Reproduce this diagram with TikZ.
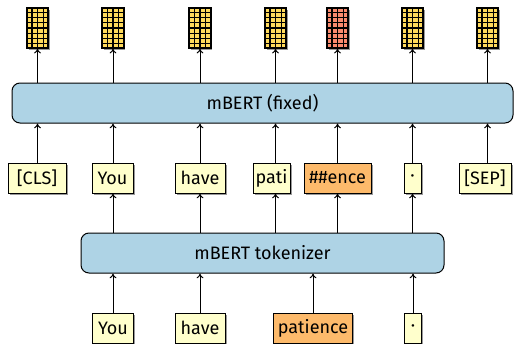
\documentclass[tikz,border=0pt]{standalone}
\usepackage{fontspec}
\setmainfont{Fira Sans}
\usetikzlibrary{shadows,calc,arrows.meta}
\definecolor{tokfill}{RGB}{255,255,204}
\definecolor{subfill}{RGB}{253,186,107}
\definecolor{bertfill}{RGB}{174,211,229}
\definecolor{vecfill}{RGB}{255,218,92}
\definecolor{vecred}{RGB}{250,138,110}
\begin{document}
\begin{tikzpicture}[x=0.5pt,y=-0.5pt,
  font=\fontsize{9}{11}\selectfont,
  shade/.style={drop shadow={shadow xshift=0.9pt, shadow yshift=-0.9pt, fill=black!40, opacity=1}},
  tokbox/.style={draw=black, line width=0.5pt, fill=tokfill, minimum height=15pt, inner sep=0pt, shade},
  subbox/.style={tokbox, fill=subfill},
  model/.style={draw=black, line width=0.5pt, fill=bertfill, rounded corners=4pt, minimum height=20pt, inner sep=0pt},
  vec/.style={draw=black, line width=0.6pt, minimum width=10.5pt, minimum height=20pt, inner sep=0pt, shade},
  gridline/.style={line width=0.55pt, black},
  arr/.style={line width=0.5pt, -{To[length=2.4pt,width=3.4pt]}}]
\useasboundingbox (0,0) rectangle (514,343);

% embedding vectors on top
\foreach \x/\c [count=\i] in {37.5/vecfill,113/vecfill,200/vecfill,275.5/vecfill,337.5/vecred,412.5/vecfill,487.5/vecfill} {
  \node[vec, fill=\c] (v\i) at (\x,28) {};
  \foreach \k in {1,2,3}
    \draw[gridline] ($(v\i.south west)!\k/4!(v\i.south east)$) -- ($(v\i.north west)!\k/4!(v\i.north east)$);
  \foreach \k in {1,...,7}
    \draw[gridline] ($(v\i.south west)!\k/8!(v\i.north west)$) -- ($(v\i.south east)!\k/8!(v\i.north east)$);
  \draw[line width=0.6pt] (v\i.south west) rectangle (v\i.north east);
}

% models
\node[model, minimum width=250.5pt] (bert) at (262.5,103) {mBERT (fixed)};
\node[model, minimum width=181.5pt] (tk) at (262.5,253) {mBERT tokenizer};

% wordpiece tokens
\node[tokbox, minimum width=29pt]   (t1) at (37,178)    {[CLS]};
\node[tokbox, minimum width=20.5pt] (t2) at (112.5,178) {You};
\node[tokbox, minimum width=25pt]   (t3) at (200,178)   {have};
\node[tokbox, minimum width=18.5pt] (t4) at (271.5,178) {pati};
\node[subbox, minimum width=33.5pt] (t5) at (337.5,178) {\#\#ence};
\node[tokbox, minimum width=8.5pt]  (t6) at (412.5,178) {·};
\node[tokbox, minimum width=26pt]   (t7) at (485,178)   {[SEP]};

% input words
\node[tokbox, minimum width=20.5pt] (b1) at (113,328) {You};
\node[tokbox, minimum width=25pt]   (b2) at (200,328) {have};
\node[subbox, minimum width=39.5pt] (b3) at (313,328) {patience};
\node[tokbox, minimum width=8.5pt]  (b4) at (413,328) {·};

% words into the tokenizer
\foreach \i in {1,...,4}
  \draw[arr] (b\i.north) -- (b\i.north |- tk.south);

% tokenizer to wordpieces
\foreach \i in {2,...,6}
  \draw[arr] (v\i |- tk.north) -- (v\i |- t\i.south);

% wordpieces into the model
\foreach \i in {1,...,7}
  \draw[arr] (v\i |- t\i.north) -- (v\i |- bert.south);

% model outputs
\foreach \i in {1,...,7}
  \draw[arr] (v\i |- bert.north) -- (v\i.south);
\end{tikzpicture}
\end{document}
